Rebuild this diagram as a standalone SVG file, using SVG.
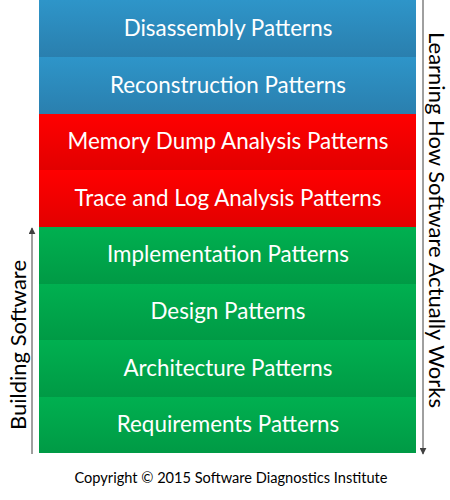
<svg xmlns="http://www.w3.org/2000/svg" width="450" height="500" viewBox="0 0 450 500">
<defs>
<linearGradient id="gb" x1="0" y1="0" x2="0" y2="1"><stop offset="0" stop-color="#2e95c9"/><stop offset="1" stop-color="#2a7fae"/></linearGradient>
<linearGradient id="gr" x1="0" y1="0" x2="0" y2="1"><stop offset="0" stop-color="#ff0000"/><stop offset="1" stop-color="#e20000"/></linearGradient>
<linearGradient id="gg" x1="0" y1="0" x2="0" y2="1"><stop offset="0" stop-color="#00b050"/><stop offset="1" stop-color="#009a45"/></linearGradient>
<marker id="ah" viewBox="0 0 10 10" refX="9" refY="5" markerWidth="7" markerHeight="7" orient="auto" markerUnits="userSpaceOnUse"><path d="M0,0 L10,5 L0,10 Z" fill="#404040"/></marker>
<style>
.t{font-family:Lato,"Open Sans",sans-serif;font-size:22.4px;fill:#ffffff;text-anchor:middle}
.s{font-family:Lato,"Open Sans",sans-serif;font-size:22px;fill:#000000;text-anchor:middle}
.c{font-family:Lato,"Open Sans",sans-serif;font-size:14.6px;fill:#000000;text-anchor:middle}
.ln{stroke:#404040;stroke-width:1;fill:none}
</style>
</defs>
<rect width="450" height="500" fill="#ffffff"/>
<g id="disassembly"><rect x="39" y="0" width="377" height="57" fill="url(#gb)"/><text class="t" x="228" y="36">Disassembly Patterns</text></g>
<g id="reconstruction"><rect x="39" y="57" width="377" height="57" fill="url(#gb)"/><text class="t" x="228" y="93">Reconstruction Patterns</text></g>
<g id="memorydump"><rect x="39" y="114" width="377" height="56" fill="url(#gr)"/><text class="t" x="228" y="149">Memory Dump Analysis Patterns</text></g>
<g id="tracelog"><rect x="39" y="170" width="377" height="57" fill="url(#gr)"/><text class="t" x="228" y="206">Trace and Log Analysis Patterns</text></g>
<g id="implementation"><rect x="39" y="227" width="377" height="57" fill="url(#gg)"/><text class="t" x="228" y="262">Implementation Patterns</text></g>
<g id="design"><rect x="39" y="284" width="377" height="56" fill="url(#gg)"/><text class="t" x="228" y="319">Design Patterns</text></g>
<g id="architecture"><rect x="39" y="340" width="377" height="57" fill="url(#gg)"/><text class="t" x="228" y="376">Architecture Patterns</text></g>
<g id="requirements"><rect x="39" y="397" width="377" height="56" fill="url(#gg)"/><text class="t" x="228" y="432">Requirements Patterns</text></g>
<g id="connectors">
<line class="ln" x1="32" y1="454" x2="32" y2="228" marker-end="url(#ah)"/>
<line class="ln" x1="423" y1="0" x2="423" y2="454" marker-end="url(#ah)"/>
</g>
<g id="building-label"><text class="s" transform="translate(26,345) rotate(-90)">Building Software</text></g>
<g id="learning-label"><text class="s" transform="translate(429,220) rotate(90)">Learning How Software Actually Works</text></g>
<g id="copyright"><text class="c" x="231" y="483">Copyright © 2015 Software Diagnostics Institute</text></g>
</svg>
